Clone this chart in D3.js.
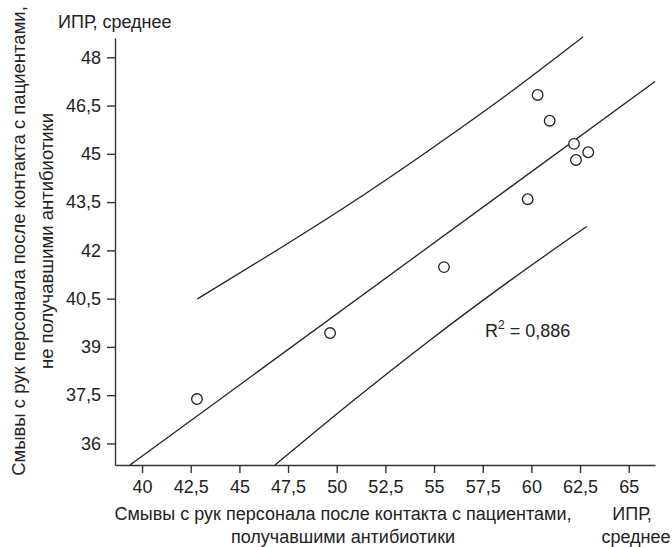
<!DOCTYPE html>
<html>
<head>
<meta charset="utf-8">
<script src="https://cdn.jsdelivr.net/npm/d3@7"></script>
<style>
  body { margin: 0; background: #fff; }
  text { font-family: "Liberation Sans", Arial, sans-serif; fill: #222; }
</style>
</head>
<body>
<div id="chart"></div>
<script>
// observed points: washes, patients on antibiotics (x) vs not (y)
var xs = [42.82, 49.66, 55.51, 59.81, 60.32, 60.94, 62.19, 62.29, 62.92];
var ys = [37.38, 39.43, 41.48, 43.59, 46.83, 46.03, 45.31, 44.81, 45.05];

// regression line ends
var fitX = [39.38, 66.35];
var fitY = [35.33, 47.25];

// upper and lower band
var upX = [42.84, 46.57, 50.59, 54.62, 58.55, 62.66];
var upY = [40.49, 41.87, 43.41, 45.06, 46.75, 48.64];
var loX = [46.83, 50.68, 54.79, 58.90, 62.84];
var loY = [35.33, 37.25, 39.21, 41.06, 42.74];

var xTicks = [40, 42.5, 45, 47.5, 50, 52.5, 55, 57.5, 60, 62.5, 65];
var yTicks = [36, 37.5, 39, 40.5, 42, 43.5, 45, 46.5, 48];

var r2label = "0,886";

var width = 672, height = 547;

var svg = d3.select('#chart')
  .append('svg')
  .attr('width', width)
  .attr('height', height);

var x = d3.scaleLinear().domain([38.61, 66.35]).range([115, 655]);
var y = d3.scaleLinear().domain([35.33, 48.6]).range([465, 38]);

var fmt = function(d) { return String(d).replace('.', ','); };

// axes
var gx = svg.append('g')
  .attr('transform', 'translate(0,465)')
  .call(d3.axisBottom(x).tickValues(xTicks).tickFormat(fmt)
    .tickSize(8).tickSizeOuter(0).tickPadding(7));

var gy = svg.append('g')
  .attr('transform', 'translate(115,0)')
  .call(d3.axisLeft(y).tickValues(yTicks).tickFormat(fmt)
    .tickSize(8).tickSizeOuter(0).tickPadding(6));

[gx, gy].forEach(function(g) {
  g.selectAll('path, line').attr('stroke', '#333').attr('stroke-width', 1.4);
  g.selectAll('text').attr('font-size', '18px').attr('fill', '#222');
});

// lines
var line = d3.line()
  .x(function(d) { return x(d[0]); })
  .y(function(d) { return y(d[1]); })
  .curve(d3.curveMonotoneX);

function pairs(a, b) { return a.map(function(v, i) { return [v, b[i]]; }); }

[pairs(fitX, fitY), pairs(upX, upY), pairs(loX, loY)].forEach(function(p) {
  svg.append('path')
    .attr('d', line(p))
    .attr('fill', 'none')
    .attr('stroke', '#222')
    .attr('stroke-width', 1.3);
});

// points
svg.selectAll('circle.pt')
  .data(pairs(xs, ys))
  .enter()
  .append('circle')
  .attr('class', 'pt')
  .attr('cx', function(d) { return x(d[0]); })
  .attr('cy', function(d) { return y(d[1]); })
  .attr('r', 5.3)
  .attr('fill', '#fff')
  .attr('stroke', '#222')
  .attr('stroke-width', 1.3);

// R^2 label
var rt = svg.append('text')
  .attr('x', 485)
  .attr('y', 337)
  .attr('font-size', '18px');
rt.append('tspan').text('R');
rt.append('tspan').attr('font-size', '12px').attr('dy', -8).text('2');
rt.append('tspan').attr('dy', 8).text(' = ' + r2label);

// axis titles
svg.append('text')
  .attr('x', 58).attr('y', 28)
  .attr('font-size', '18px')
  .text('ИПР, среднее');

svg.append('text')
  .attr('x', 343).attr('y', 520)
  .attr('text-anchor', 'middle')
  .attr('font-size', '18px')
  .text('Смывы с рук персонала после контакта с пациентами,');
svg.append('text')
  .attr('x', 343).attr('y', 543)
  .attr('text-anchor', 'middle')
  .attr('font-size', '18px')
  .text('получавшими антибиотики');

svg.append('text')
  .attr('x', 632).attr('y', 520)
  .attr('text-anchor', 'middle')
  .attr('font-size', '18px')
  .text('ИПР,');
svg.append('text')
  .attr('x', 636).attr('y', 543)
  .attr('text-anchor', 'middle')
  .attr('font-size', '18px')
  .text('среднее');

var yt = svg.append('g').attr('transform', 'translate(0,241) rotate(-90)');
yt.append('text')
  .attr('x', 0).attr('y', 25)
  .attr('text-anchor', 'middle')
  .attr('font-size', '18.5px')
  .text('Смывы с рук персонала после контакта с пациентами,');
yt.append('text')
  .attr('x', 0).attr('y', 53)
  .attr('text-anchor', 'middle')
  .attr('font-size', '18.5px')
  .text('не получавшими антибиотики');
</script>
</body>
</html>
